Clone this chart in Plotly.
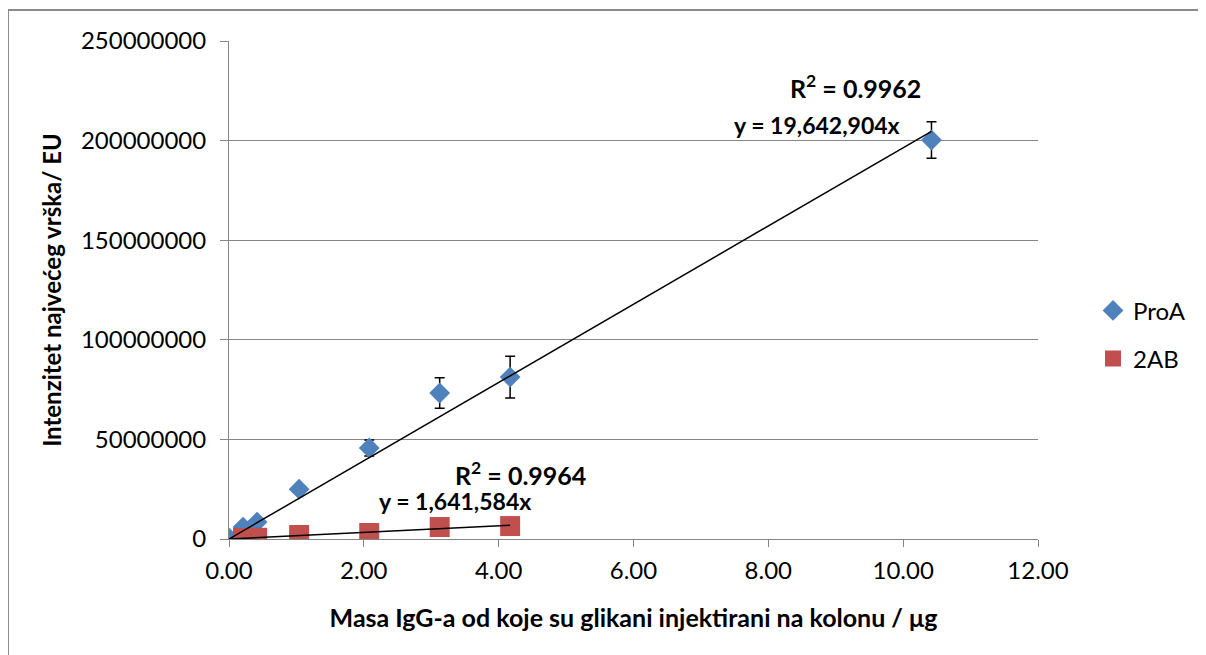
import plotly.graph_objects as go

# ---- data ----
mass_ug = [0.0, 0.208, 0.417, 1.04, 2.08, 3.125, 4.17, 10.42]
proa_intensity = [500000, 6000000, 8500000, 25000000, 45700000, 73300000, 81300000, 200300000]
proa_err = [0, 500000, 700000, 1500000, 4000000, 7700000, 10500000, 9200000]

mass_2ab = [0.208, 0.417, 1.04, 2.08, 3.125, 4.17]
ab_intensity = [500000, 600000, 2000000, 3000000, 6000000, 6500000]

slope_proa = 19642904
slope_2ab = 1641584
r2_proa = "0.9962"
r2_2ab = "0.9964"

y_ticks = [0, 50000000, 100000000, 150000000, 200000000, 250000000]
x_ticks = [0, 2, 4, 6, 8, 10, 12]

FONT = "Lato"
BLUE = "#4f81bd"
RED = "#c0504d"

fig = go.Figure()

fig.add_trace(go.Scatter(
    x=mass_ug, y=proa_intensity, mode="markers", name="ProA", legendgroup="a",
    marker=dict(symbol="diamond", size=16, color=BLUE),
    error_y=dict(type="data", array=proa_err, visible=True, color="black", thickness=1.5, width=5),
))
fig.add_trace(go.Scatter(
    x=mass_2ab, y=ab_intensity, mode="markers", name="2AB", legendgroup="b",
    marker=dict(symbol="square", size=20, color=RED),
))

# trendlines (through origin)
tx1 = [0, max(mass_ug)]
fig.add_trace(go.Scatter(x=tx1, y=[slope_proa * v for v in tx1], mode="lines",
                         line=dict(color="black", width=1.5), showlegend=False, hoverinfo="skip"))
tx2 = [0, max(mass_2ab)]
fig.add_trace(go.Scatter(x=tx2, y=[slope_2ab * v for v in tx2], mode="lines",
                         line=dict(color="black", width=1.5), showlegend=False, hoverinfo="skip"))

grid = "#868686"
fig.update_xaxes(range=[0, 12], tickvals=x_ticks, tickformat=".2f",
                 showgrid=False, zeroline=False, showline=True, linecolor=grid, linewidth=1,
                 ticks="outside", ticklen=7, tickcolor=grid, ticklabelstandoff=3,
                 tickfont=dict(family=FONT, size=24, color="black"),
                 title=dict(text="<b>Masa IgG-a od koje su glikani injektirani na kolonu / μg</b>",
                            font=dict(family=FONT, size=25, color="black"), standoff=26))
fig.update_yaxes(range=[0, 250000000], tickvals=y_ticks, tickformat="d",
                 showgrid=True, gridcolor=grid, gridwidth=1, zeroline=False,
                 showline=True, linecolor=grid, linewidth=1,
                 ticks="outside", ticklen=8, tickcolor=grid, ticklabelstandoff=9,
                 tickfont=dict(family=FONT, size=24, color="black"),
                 title=dict(text="<b>Intenzitet najvećeg vrška/ EU</b>",
                            font=dict(family=FONT, size=24, color="black"), standoff=12))

ann_font_big = dict(family=FONT, size=25, color="black")
ann_font = dict(family=FONT, size=23, color="black")
fig.add_annotation(x=9.30, y=227400000, text=f"<b>R<sup>2</sup> = {r2_proa}</b>", showarrow=False, font=ann_font_big)
fig.add_annotation(x=8.72, y=207800000, text=f"<b>y = {slope_proa:,}x</b>", showarrow=False, font=ann_font)
fig.add_annotation(x=4.32, y=33000000, text=f"<b>R<sup>2</sup> = {r2_2ab}</b>", showarrow=False, font=ann_font_big)
fig.add_annotation(x=3.35, y=19100000, text=f"<b>y = {slope_2ab:,}x</b>", showarrow=False, font=ann_font)

# outer chart border
fig.add_shape(type="rect", xref="paper", yref="paper", x0=-0.2732, x1=1.22, y0=-0.25, y1=1.0622,
              line=dict(color="#8c8c8c", width=2), layer="below")

# page body has an 8px margin, so the figure is offset by 8px
fig.update_layout(
    width=1198, height=647,
    margin=dict(l=221, r=168, t=33, b=116),
    paper_bgcolor="white", plot_bgcolor="white",
    legend=dict(x=1.068, y=0.41, xanchor="left", yanchor="middle",
                font=dict(family=FONT, size=24, color="black"),
                traceorder="grouped", tracegroupgap=14, itemwidth=30),
    font=dict(family=FONT),
)

fig.write_html("out.html")
